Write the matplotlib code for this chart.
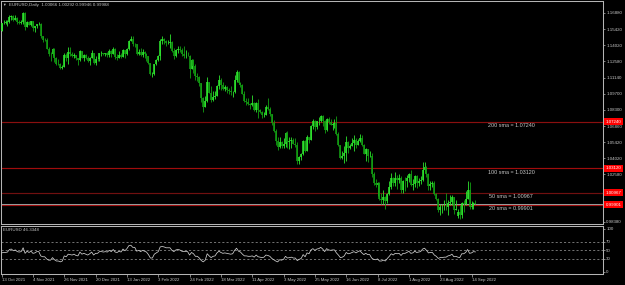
import numpy as np
import matplotlib
matplotlib.use('Agg')
import matplotlib.pyplot as plt
import matplotlib.transforms as mtrans

plt.rcParams['font.family'] = ['Liberation Sans', 'DejaVu Sans']

# ---------------- data (EURUSD daily, 13 Oct 2021 .. 16 Sep 2022) ----------------
opens = [
    # Oct
    1.1530, 1.1594, 1.1599, 1.1601, 1.1608, 1.1650, 1.1654, 1.1623, 1.1644, 1.1608, 1.1598, 1.1603, 1.1681,
    # Nov
    1.1558, 1.1607, 1.1580, 1.1611, 1.1556, 1.1567, 1.1588, 1.1592, 1.1478, 1.1446, 1.1444, 1.1369, 1.1321,
    1.1319, 1.1370, 1.1290, 1.1236, 1.1235, 1.1199, 1.1210, 1.1317, 1.1290,
    # Dec
    1.1338, 1.1322, 1.1302, 1.1316, 1.1286, 1.1266, 1.1345, 1.1290, 1.1315, 1.1285, 1.1258, 1.1289, 1.1330,
    1.1239, 1.1282, 1.1281, 1.1328, 1.1328, 1.1320, 1.1327, 1.1310, 1.1351, 1.1326,
    # Jan
    1.1370, 1.1296, 1.1286, 1.1312, 1.1296, 1.1359, 1.1325, 1.1367, 1.1441, 1.1455, 1.1413, 1.1409, 1.1326,
    1.1343, 1.1311, 1.1343, 1.1326, 1.1303, 1.1243, 1.1144, 1.1146,
    # Feb
    1.1235, 1.1271, 1.1302, 1.1441, 1.1454, 1.1441, 1.1416, 1.1422, 1.1425, 1.1349, 1.1306, 1.1357, 1.1370,
    1.1361, 1.1320, 1.1306, 1.1309, 1.1308, 1.1192, 1.1270,
    # Mar
    1.1220, 1.1127, 1.1121, 1.1066, 1.0930, 1.0855, 1.0903, 1.1076, 1.0982, 1.0912, 1.0941, 1.0955, 1.1036,
    1.1095, 1.1049, 1.1015, 1.1030, 1.1007, 1.0998, 1.0983, 1.0986, 1.1089, 1.1160,
    # Apr
    1.1067, 1.1046, 1.0972, 1.0904, 1.0900, 1.0879, 1.0876, 1.0885, 1.0829, 1.0893, 1.0826, 1.0809, 1.0780,
    1.0787, 1.0854, 1.0837, 1.0794, 1.0714, 1.0638, 1.0557, 1.0498,
    # May
    1.0544, 1.0505, 1.0526, 1.0620, 1.0541, 1.0549, 1.0561, 1.0529, 1.0514, 1.0380, 1.0412, 1.0437, 1.0551,
    1.0463, 1.0585, 1.0562, 1.0690, 1.0733, 1.0679, 1.0726, 1.0732, 1.0777,
    # Jun
    1.0733, 1.0650, 1.0749, 1.0719, 1.0693, 1.0704, 1.0716, 1.0615, 1.0518, 1.0407, 1.0417, 1.0446, 1.0548,
    1.0494, 1.0511, 1.0534, 1.0566, 1.0521, 1.0553, 1.0583, 1.0518, 1.0442,
    # Jul
    1.0484, 1.0425, 1.0425, 1.0263, 1.0183, 1.0161, 1.0186, 1.0039, 1.0036, 1.0060, 1.0019, 1.0084, 1.0143,
    1.0226, 1.0178, 1.0230, 1.0212, 1.0223, 1.0118, 1.0200, 1.0196,
    # Aug
    1.0224, 1.0259, 1.0162, 1.0169, 1.0245, 1.0182, 1.0196, 1.0212, 1.0298, 1.0322, 1.0258, 1.0160, 1.0169,
    1.0178, 1.0088, 1.0037, 0.9941, 0.9966, 0.9969, 0.9973, 0.9966, 1.0003, 1.0016,
    # Sep
    1.0054, 0.9945, 0.9890, 0.9928, 0.9902, 1.0008, 1.0000, 1.0041, 1.0121, 0.9966, 0.9978, 1.00066,
]
highs = [
    1.1600, 1.1624, 1.1624, 1.1624, 1.1668, 1.1667, 1.1664, 1.1669, 1.1652, 1.1625, 1.1624, 1.1692, 1.1693,
    1.1614, 1.1617, 1.1616, 1.1616, 1.1570, 1.1590, 1.1609, 1.1595, 1.1483, 1.1464, 1.1465, 1.1385, 1.1342,
    1.1374, 1.1374, 1.1300, 1.1275, 1.1245, 1.1229, 1.1330, 1.1330, 1.1383,
    1.1382, 1.1336, 1.1334, 1.1317, 1.1291, 1.1355, 1.1353, 1.1325, 1.1326, 1.1302, 1.1300, 1.1360, 1.1332,
    1.1304, 1.1300, 1.1335, 1.1345, 1.1335, 1.1331, 1.1342, 1.1369, 1.1361, 1.1386,
    1.1376, 1.1322, 1.1346, 1.1331, 1.1364, 1.1361, 1.1375, 1.1449, 1.1482, 1.1483, 1.1421, 1.1415, 1.1369,
    1.1372, 1.1363, 1.1347, 1.1330, 1.1309, 1.1247, 1.1159, 1.1238,
    1.1280, 1.1315, 1.1451, 1.1483, 1.1464, 1.1449, 1.1448, 1.1495, 1.1438, 1.1372, 1.1369, 1.1395, 1.1396,
    1.1376, 1.1395, 1.1359, 1.1344, 1.1313, 1.1274, 1.1275,
    1.1234, 1.1153, 1.1125, 1.1069, 1.0946, 1.0950, 1.1121, 1.1077, 1.1043, 1.0993, 1.0993, 1.1045, 1.1137,
    1.1111, 1.1073, 1.1047, 1.1041, 1.1018, 1.1037, 1.0999, 1.1138, 1.1185, 1.1170,
    1.1077, 1.1054, 1.0994, 1.0936, 1.0933, 1.0893, 1.0956, 1.0902, 1.0898, 1.0924, 1.0838, 1.0820, 1.0810,
    1.0872, 1.0936, 1.0851, 1.0795, 1.0738, 1.0656, 1.0590, 1.0593,
    1.0556, 1.0576, 1.0629, 1.0641, 1.0590, 1.0593, 1.0578, 1.0577, 1.0543, 1.0424, 1.0444, 1.0564, 1.0566,
    1.0607, 1.0590, 1.0697, 1.0749, 1.0738, 1.0727, 1.0765, 1.0787, 1.0786,
    1.0737, 1.0753, 1.0764, 1.0752, 1.0710, 1.0748, 1.0774, 1.0634, 1.0522, 1.0464, 1.0506, 1.0601, 1.0550,
    1.0531, 1.0582, 1.0606, 1.0580, 1.0573, 1.0614, 1.0606, 1.0531, 1.0489,
    1.0485, 1.0463, 1.0443, 1.0276, 1.0215, 1.0188, 1.0193, 1.0097, 1.0122, 1.0071, 1.0098, 1.0200, 1.0269,
    1.0234, 1.0278, 1.0254, 1.0258, 1.0248, 1.0208, 1.0234, 1.0254,
    1.0274, 1.0294, 1.0216, 1.0254, 1.0250, 1.0224, 1.0248, 1.0368, 1.0364, 1.0330, 1.0269, 1.0202, 1.0200,
    1.0202, 1.0095, 1.0050, 0.9994, 0.9999, 1.0028, 1.0090, 1.0034, 1.0079, 1.0079,
    1.0056, 1.0034, 0.9953, 0.9991, 1.0011, 1.0030, 1.0112, 1.0198, 1.0187, 1.0020, 1.0017, 1.00292,
]
lows = [
    1.1525, 1.1586, 1.1584, 1.1571, 1.1600, 1.1624, 1.1618, 1.1620, 1.1590, 1.1587, 1.1585, 1.1585, 1.1535,
    1.1557, 1.1577, 1.1570, 1.1529, 1.1513, 1.1553, 1.1576, 1.1464, 1.1432, 1.1433, 1.1365, 1.1309, 1.1264,
    1.1305, 1.1250, 1.1225, 1.1227, 1.1186, 1.1192, 1.1205, 1.1259, 1.1235,
    1.1308, 1.1295, 1.1285, 1.1266, 1.1227, 1.1262, 1.1285, 1.1263, 1.1274, 1.1250, 1.1222, 1.1287, 1.1234,
    1.1222, 1.1264, 1.1265, 1.1303, 1.1310, 1.1304, 1.1299, 1.1300, 1.1300, 1.1320,
    1.1280, 1.1272, 1.1284, 1.1285, 1.1294, 1.1285, 1.1315, 1.1362, 1.1437, 1.1392, 1.1387, 1.1317, 1.1315,
    1.1309, 1.1300, 1.1285, 1.1264, 1.1235, 1.1137, 1.1121, 1.1138,
    1.1222, 1.1264, 1.1270, 1.1414, 1.1415, 1.1397, 1.1410, 1.1375, 1.1340, 1.1280, 1.1300, 1.1335, 1.1337,
    1.1302, 1.1288, 1.1288, 1.1302, 1.1106, 1.1186, 1.1151,
    1.1093, 1.1085, 1.1038, 1.0900, 1.0806, 1.0850, 1.0902, 1.0974, 1.0902, 1.0911, 1.0927, 1.0952, 1.1015,
    1.1008, 1.1001, 1.0992, 1.0979, 1.0965, 1.0963, 1.0945, 1.0980, 1.1073, 1.1054,
    1.1028, 1.0968, 1.0901, 1.0871, 1.0873, 1.0836, 1.0864, 1.0822, 1.0808, 1.0757, 1.0798, 1.0760, 1.0769,
    1.0785, 1.0826, 1.0771, 1.0698, 1.0632, 1.0515, 1.0470, 1.0494,
    1.0490, 1.0492, 1.0504, 1.0494, 1.0483, 1.0493, 1.0523, 1.0503, 1.0354, 1.0350, 1.0389, 1.0430, 1.0459,
    1.0461, 1.0532, 1.0559, 1.0661, 1.0643, 1.0662, 1.0694, 1.0725, 1.0686,
    1.0627, 1.0642, 1.0707, 1.0692, 1.0653, 1.0671, 1.0606, 1.0506, 1.0398, 1.0398, 1.0359, 1.0381, 1.0445,
    1.0485, 1.0509, 1.0469, 1.0489, 1.0514, 1.0545, 1.0509, 1.0436, 1.0381,
    1.0366, 1.0409, 1.0235, 1.0161, 1.0144, 1.0071, 1.0030, 0.9999, 0.9998, 0.9952, 1.0006, 1.0076, 1.0125,
    1.0160, 1.0153, 1.0129, 1.0184, 1.0097, 1.0095, 1.0114, 1.0145,
    1.0193, 1.0160, 1.0123, 1.0145, 1.0141, 1.0159, 1.0176, 1.0202, 1.0273, 1.0235, 1.0122, 1.0122, 1.0148,
    1.0075, 1.0032, 0.9926, 0.9900, 0.9914, 0.9947, 0.9947, 0.9900, 0.9990, 0.9991,
    0.9910, 0.9940, 0.9876, 0.9864, 0.9876, 0.9929, 0.9986, 1.0041, 0.9956, 0.9955, 0.9956, 0.99946,
]
closes = [
    1.1594, 1.1599, 1.1601, 1.1608, 1.1650, 1.1654, 1.1623, 1.1644, 1.1608, 1.1598, 1.1603, 1.1681, 1.1558,
    1.1607, 1.1580, 1.1611, 1.1556, 1.1567, 1.1588, 1.1592, 1.1478, 1.1446, 1.1444, 1.1369, 1.1321, 1.1319,
    1.1370, 1.1290, 1.1236, 1.1235, 1.1199, 1.1210, 1.1317, 1.1290, 1.1338,
    1.1322, 1.1302, 1.1316, 1.1286, 1.1266, 1.1345, 1.1290, 1.1315, 1.1285, 1.1258, 1.1289, 1.1330, 1.1239,
    1.1282, 1.1281, 1.1328, 1.1328, 1.1320, 1.1327, 1.1310, 1.1351, 1.1326, 1.1370,
    1.1296, 1.1286, 1.1312, 1.1296, 1.1359, 1.1325, 1.1367, 1.1441, 1.1455, 1.1413, 1.1409, 1.1326, 1.1343,
    1.1311, 1.1343, 1.1326, 1.1303, 1.1243, 1.1144, 1.1146, 1.1235,
    1.1271, 1.1302, 1.1441, 1.1454, 1.1441, 1.1416, 1.1422, 1.1425, 1.1349, 1.1306, 1.1357, 1.1370, 1.1361,
    1.1320, 1.1306, 1.1309, 1.1308, 1.1192, 1.1270, 1.1220,
    1.1127, 1.1121, 1.1066, 1.0930, 1.0855, 1.0903, 1.1076, 1.0982, 1.0912, 1.0941, 1.0955, 1.1036, 1.1095,
    1.1049, 1.1015, 1.1030, 1.1007, 1.0998, 1.0983, 1.0986, 1.1089, 1.1160, 1.1067,
    1.1046, 1.0972, 1.0904, 1.0900, 1.0879, 1.0876, 1.0885, 1.0829, 1.0893, 1.0826, 1.0809, 1.0780, 1.0787,
    1.0854, 1.0837, 1.0794, 1.0714, 1.0638, 1.0557, 1.0498, 1.0544,
    1.0505, 1.0526, 1.0620, 1.0541, 1.0549, 1.0561, 1.0529, 1.0514, 1.0380, 1.0412, 1.0437, 1.0551, 1.0463,
    1.0585, 1.0562, 1.0690, 1.0733, 1.0679, 1.0726, 1.0732, 1.0777, 1.0733,
    1.0650, 1.0749, 1.0719, 1.0693, 1.0704, 1.0716, 1.0615, 1.0518, 1.0407, 1.0417, 1.0446, 1.0548, 1.0494,
    1.0511, 1.0534, 1.0566, 1.0521, 1.0553, 1.0583, 1.0518, 1.0442, 1.0484,
    1.0425, 1.0425, 1.0263, 1.0183, 1.0161, 1.0186, 1.0039, 1.0036, 1.0060, 1.0019, 1.0084, 1.0143, 1.0226,
    1.0178, 1.0230, 1.0212, 1.0223, 1.0118, 1.0200, 1.0196, 1.0224,
    1.0259, 1.0162, 1.0169, 1.0245, 1.0182, 1.0196, 1.0212, 1.0298, 1.0322, 1.0258, 1.0160, 1.0169, 1.0178,
    1.0088, 1.0037, 0.9941, 0.9966, 0.9969, 0.9973, 0.9966, 1.0003, 1.0016, 1.0054,
    0.9945, 0.9954, 0.9928, 0.9902, 1.0008, 1.0000, 1.0041, 1.0121, 0.9966, 0.9978, 1.0007, 0.99988,
]
rsi_values = [
    44, 45, 45, 46, 52, 53, 49, 51, 47, 46, 47, 56, 43,
    48, 45, 48, 43, 44, 47, 47, 37, 35, 35, 30, 27, 27, 33, 28, 25, 25, 23, 25, 37, 35, 41,
    40, 39, 41, 38, 37, 46, 41, 43, 41, 39, 42, 46, 39, 43, 43, 47, 47, 46, 47, 46, 50, 47, 52,
    46, 45, 48, 46, 53, 49, 54, 61, 62, 57, 57, 48, 50, 47, 50, 48, 46, 40, 32, 32, 41,
    44, 47, 58, 59, 58, 56, 56, 56, 50, 47, 51, 52, 51, 48, 47, 47, 47, 39, 45, 42,
    36, 36, 32, 26, 23, 27, 42, 37, 33, 36, 37, 44, 48, 45, 43, 44, 43, 42, 41, 42, 50, 55, 48,
    46, 41, 37, 37, 36, 36, 37, 34, 39, 35, 34, 33, 34, 39, 38, 36, 31, 28, 25, 23, 28,
    27, 29, 36, 32, 33, 34, 32, 32, 26, 29, 31, 40, 35, 44, 42, 51, 54, 50, 53, 54, 57, 53,
    47, 54, 51, 50, 51, 51, 44, 39, 33, 34, 37, 45, 42, 43, 45, 47, 44, 47, 49, 44, 40, 43,
    40, 40, 32, 29, 28, 30, 25, 25, 27, 25, 31, 36, 42, 39, 43, 42, 43, 38, 43, 43, 45,
    48, 43, 44, 48, 45, 46, 47, 53, 55, 50, 44, 45, 45, 39, 36, 31, 33, 33, 34, 34, 37, 38, 41,
    35, 36, 34, 33, 42, 42, 45, 52, 43, 44, 47, 46.3348,
]

sma_names = ['200 sma', '100 sma', '50 sma', '20 sma']
sma_values = [1.07240, 1.03120, 1.00967, 0.99901]
sma_colors = ['#8a0f0f', '#a00c0c', '#701010', '#a00c0c']

# visible price-scale labels (the two behind the red sma tags are not shown in the reference)
price_ticks = [1.16880, 1.15420, 1.14020, 1.12580, 1.11140, 1.09700, 1.08300,
               1.06860, 1.05420, 1.04020, 1.02580, 0.98380]
rsi_ticks = [100, 70, 50, 30, 0]
rsi_levels = [70, 50, 30]
time_tick_bars = [0, 16, 32, 48, 64, 80, 96, 112, 128, 144, 160, 176, 192, 208, 224, 240]
time_tick_labels = ['13 Oct 2021', '4 Nov 2021', '26 Nov 2021', '20 Dec 2021', '13 Jan 2022',
                    '3 Feb 2022', '24 Feb 2022', '18 Mar 2022', '11 Apr 2022', '3 May 2022',
                    '25 May 2022', '16 Jun 2022', '8 Jul 2022', '1 Aug 2022', '23 Aug 2022',
                    '14 Sep 2022']
title_text = 'EURUSD,Daily  1.00066 1.00292 0.99946 0.99988'
rsi_label = 'EURUSD 46.3348'

# ---------------- figure ----------------
W, H = 625, 285
FRAME = '#b4b4b4'
TXT = '#c8c8c8'
fig = plt.figure(figsize=(W / 100, H / 100), dpi=100, facecolor='black')


def px_axes(x0, y0, x1, y1):
    return fig.add_axes([x0 / W, 1 - y1 / H, (x1 - x0) / W, (y1 - y0) / H], facecolor='black')


ax = px_axes(1, 1, 603, 224)
sub = px_axes(1, 226, 603, 274)

XL = (-0.306, 307.15)
for a in (ax, sub):
    a.set_xlim(*XL)
    for s in a.spines.values():
        s.set_color(FRAME)
        s.set_linewidth(0.75)

o = np.array(opens)
h = np.array(highs)
l = np.array(lows)
c = np.array(closes)
x = np.arange(len(c))
up = c >= o
cols = ['#2ee62e' if u else '#13a013' for u in up]
ax.vlines(x, l, h, colors=cols, linewidth=0.6, zorder=3)
ax.vlines(x, np.minimum(o, c), np.maximum(o, c), colors=cols, linewidth=1.15, zorder=3)

ax.set_ylim(0.98197, 1.17910)

# sma lines and labels
trans = mtrans.blended_transform_factory(ax.transAxes, ax.transData)
for name, val, col in zip(sma_names, sma_values, sma_colors):
    ax.axhline(val, color=col, lw=0.85, zorder=2)
    ax.annotate(f'{name} = {val:.5f}', xy=(260.2, val), xytext=(0, -1.0), textcoords='offset points',
                ha='center', va='top', fontsize=3.9, color=TXT, zorder=4)
ax.axhline(closes[-1], color='#9a9a9a', lw=0.75, zorder=2)

ax.set_xticks([])
ax.yaxis.tick_right()
ax.set_yticks(price_ticks)
ax.set_yticklabels([f'{v:.5f}' for v in price_ticks])
ax.tick_params(axis='y', length=1.5, width=0.5, color=FRAME, labelcolor=TXT, labelsize=3.2, pad=0.8)

for val in sma_values:
    ax.text(1.0045, val, f'{val:.5f}', transform=trans, ha='left', va='center', fontsize=3.2,
            color='white', clip_on=False, zorder=6,
            bbox=dict(boxstyle='square,pad=0.3', fc='#ff0000', ec='none'))

fig.text(4.5 / W, 1 - 5 / H, '\u25bc', fontsize=2.6, color=TXT, ha='center', va='center')
fig.text(9 / W, 1 - 5 / H, title_text, fontsize=3.2, color=TXT, ha='left', va='center')

# ---------------- RSI sub window ----------------
sub.plot(x, rsi_values, color='#d0d0d0', lw=0.55, zorder=3)
for lev in rsi_levels:
    sub.axhline(lev, color='#a0a0a0', lw=0.5, ls=(0, (3, 3)), zorder=2)
sub.set_ylim(-5.4, 107)
sub.yaxis.tick_right()
sub.set_yticks(rsi_ticks)
sub.set_yticklabels([str(t) for t in rsi_ticks])
sub.tick_params(axis='y', length=1.5, width=0.5, color=FRAME, labelcolor=TXT, labelsize=3.2, pad=0.8)
sub.set_xticks(time_tick_bars)
sub.set_xticklabels(time_tick_labels, ha='left')
sub.tick_params(axis='x', length=2, width=0.5, color=FRAME, labelcolor=TXT, labelsize=3.1, pad=0.8)
fig.text(3 / W, 1 - 230 / H, rsi_label, fontsize=3.2, color=TXT, ha='left', va='center')

fig.savefig('out.png', dpi=100, facecolor='black')
